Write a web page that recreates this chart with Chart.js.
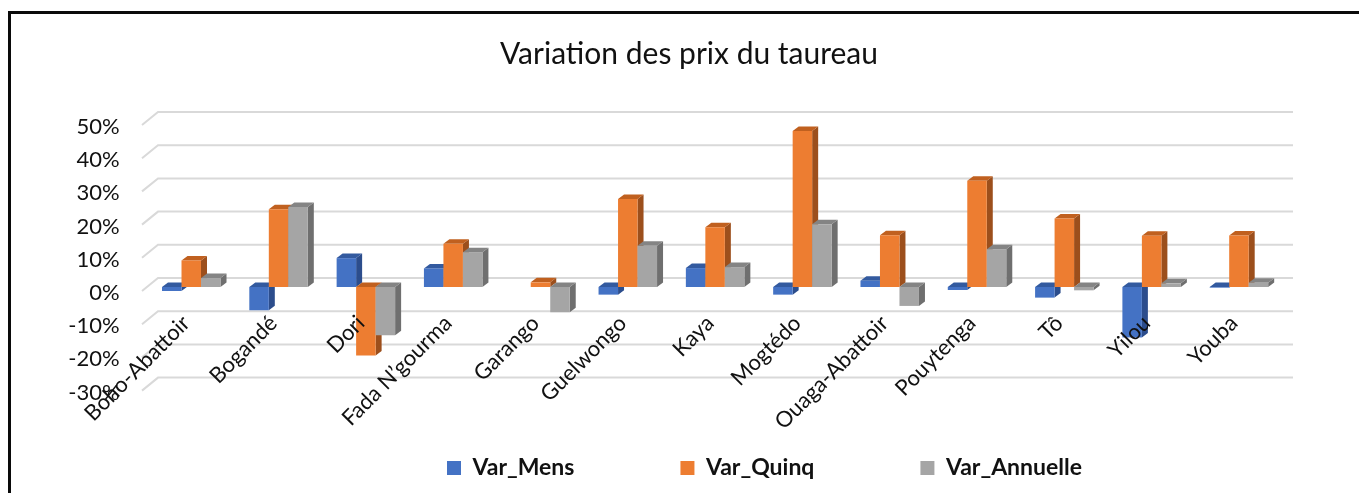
<!DOCTYPE html>
<html>
<head>
<meta charset="utf-8">
<title>Variation des prix du taureau</title>
<script src="https://cdn.jsdelivr.net/npm/chart.js@4"></script>
<style>
    html, body { margin: 0; padding: 0; background: #fff; overflow: hidden; }
    #frame { position: absolute; left: 8px; top: 11px; right: 0; bottom: 0; border-left: 3px solid #0a0a0a; border-top: 3px solid #0a0a0a; }
    #chart { position: absolute; left: 0; top: 0; }
</style>
</head>
<body>
<div id="frame"></div>
<canvas id="chart" width="1359" height="493"></canvas>
<script>
const categories = ["Boho-Abattoir", "Bogandé", "Dori", "Fada N’gourma", "Garango", "Guelwongo", "Kaya", "Mogtédo", "Ouaga-Abattoir", "Pouytenga", "Tô", "Yilou", "Youba"];
const varMens = [-1.2, -7, 8.7, 5.6, null, -2.3, 5.7, -2.3, 1.9, -0.9, -3.2, -15.2, -0.2];
const varQuinq = [8, 23.4, -20.6, 13, 1.4, 26.5, 18, 47, 15.6, 32, 20.6, 15.4, 15.5];
const varAnnuelle = [2.7, 24.1, -14.5, 10.5, -7.6, 12.4, 6, 18.9, -5.7, 11.4, -1, 1.1, 1.3];

// depth of the fake 3D look, in pixels
const barDepth = { x: 6, y: 4.5 };
const gridBack = { x: 10.4, y: -9 };
const gridFront = { x: -5.6, y: 4 };

function polygon(ctx, points, color) {
    ctx.fillStyle = color;
    ctx.beginPath();
    points.forEach((p, i) => i ? ctx.lineTo(p[0], p[1]) : ctx.moveTo(p[0], p[1]));
    ctx.closePath();
    ctx.fill();
}

function drawWalls(chart) {
    const ctx = chart.ctx;
    const yScale = chart.scales.y;
    const { left, right } = chart.chartArea;
    ctx.save();
    ctx.strokeStyle = "#d9d9d9";
    ctx.lineWidth = 2;
    yScale.ticks.forEach(tick => {
        const y = yScale.getPixelForValue(tick.value);
        ctx.beginPath();
        ctx.moveTo(left + gridFront.x, y + gridFront.y);
        ctx.lineTo(left + gridBack.x, y + gridBack.y);
        ctx.lineTo(right + gridBack.x, y + gridBack.y);
        ctx.stroke();
    });
    ctx.restore();
}

function drawFaces(chart, index) {
    const ctx = chart.ctx;
    const dataset = chart.data.datasets[index];
    chart.getDatasetMeta(index).data.forEach((bar, i) => {
        if (dataset.data[i] === null) return;
        const x0 = bar.x - bar.width / 2;
        const x1 = bar.x + bar.width / 2;
        const top = Math.min(bar.y, bar.base);
        const bottom = Math.max(bar.y, bar.base);
        polygon(ctx, [[x1, top], [x1 + barDepth.x, top - barDepth.y], [x1 + barDepth.x, bottom - barDepth.y], [x1, bottom]], dataset.sideColor);
        polygon(ctx, [[x0, top], [x0 + barDepth.x, top - barDepth.y], [x1 + barDepth.x, top - barDepth.y], [x1, top]], dataset.topColor);
    });
}

// Chart.js paints the first dataset last, but here each bar has to cover the side of the bar on its left
const depthBars = {
    id: "depthBars",
    beforeDatasetsDraw(chart) {
        drawWalls(chart);
        chart.data.datasets.forEach((dataset, i) => {
            drawFaces(chart, i);
            chart.getDatasetMeta(i).controller.draw();
        });
        return false;
    }
};

// title and legend are off-centre in the original
const placeBoxes = {
    id: "placeBoxes",
    afterLayout(chart) {
        const legend = chart.legend;
        const gap = legend.options.labels.padding;
        legend.left = 447 - gap;
        legend.right = chart.width;
        legend.top = 456.5 - gap;
        legend.bottom = chart.height;
        chart.titleBlock.left = 95.4;
    }
};

new Chart(document.getElementById("chart"), {
    type: "bar",
    data: {
        labels: categories,
        datasets: [
            { label: "Var_Mens", data: varMens, backgroundColor: "#4472c4", sideColor: "#2c4d8c", topColor: "#335a9f" },
            { label: "Var_Quinq", data: varQuinq, backgroundColor: "#ed7d31", sideColor: "#9c4f1c", topColor: "#c0601f" },
            { label: "Var_Annuelle", data: varAnnuelle, backgroundColor: "#a5a5a5", sideColor: "#6f6f6f", topColor: "#848484" }
        ]
    },
    options: {
        responsive: false,
        animation: false,
        categoryPercentage: 0.67,
        barPercentage: 1,
        layout: {
            autoPadding: false,
            padding: { left: 0, right: 76.4, top: 0, bottom: 56.4 }
        },
        scales: {
            x: {
                position: { y: -7 },
                grid: { display: false, drawTicks: false },
                border: { display: false },
                ticks: {
                    z: 1,
                    color: "#111",
                    font: { family: "Lato", size: 22 },
                    minRotation: 45,
                    maxRotation: 45,
                    autoSkip: false,
                    padding: 0,
                    labelOffset: -5
                }
            },
            y: {
                min: -30,
                max: 50,
                grid: { display: false, drawTicks: false },
                border: { display: false },
                afterFit(scale) { scale.width = 147.6; },
                ticks: {
                    stepSize: 10,
                    color: "#111",
                    font: { family: "Lato", size: 22 },
                    padding: 28,
                    labelOffset: 6,
                    callback: v => v + "%"
                }
            }
        },
        plugins: {
            title: {
                display: true,
                text: "Variation des prix du taureau",
                color: "#111",
                font: { family: "Lato", size: 30, weight: "normal" },
                padding: { top: 36, bottom: 49 }
            },
            legend: {
                position: "bottom",
                align: "start",
                maxHeight: 50,
                labels: {
                    boxWidth: 14,
                    boxHeight: 14,
                    padding: 106,
                    color: "#111",
                    font: { family: "Lato", size: 23, weight: "bold" }
                }
            },
            tooltip: { enabled: false }
        }
    },
    plugins: [depthBars, placeBoxes]
});
</script>
</body>
</html>
